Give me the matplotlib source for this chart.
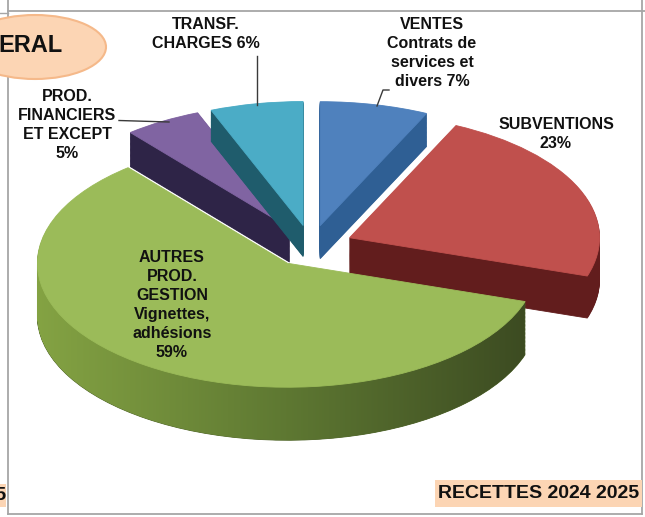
import numpy as np
import matplotlib
matplotlib.use('Agg')
import matplotlib.pyplot as plt
from matplotlib.patches import Ellipse, Rectangle, PathPatch
from matplotlib.path import Path
from matplotlib.colors import to_rgb

plt.rcParams['font.family'] = ['Liberation Sans', 'DejaVu Sans']

# slices, clockwise from 12 o'clock
labels = ['VENTES\nContrats de\nservices et\ndivers 7%',
          'SUBVENTIONS\n23%',
          'AUTRES\nPROD.\nGESTION\nVignettes,\nadhésions\n59%',
          'PROD.\nFINANCIERS\nET EXCEPT\n5%',
          'TRANSF.\nCHARGES 6%']
shares = [7, 23, 59, 5, 6]
top_colors = ['#4f81bd', '#c0504d', '#9bbb59', '#8064a2', '#4bacc6']
side_colors = ['#2f5f94', '#621d1d', '#4e6328', '#2e2447', '#1f5c6c']
title_tail = 'ERAL'
caption = 'RECETTES 2024 2025'
caption_left = '2025'

W, H = 645, 517
cx, cy = 311, 246          # pie centre in pixels (from top)
rx, ry = 250, 124          # ellipse radii in pixels
expl = 42 / rx
nlay = 40
# wall height per slice (back slices look thinner, perspective)
depths = [33, 42, 53, 34, 31]
rank = {0: 0, 3: 1, 4: 2, 1: 3, 2: 4}   # back to front painting order

fig = plt.figure(figsize=(W / 100, H / 100), dpi=100)
fig.patch.set_facecolor('white')

# spreadsheet frame
bg = fig.add_axes([0, 0, 1, 1])
bg.set_xlim(0, W)
bg.set_ylim(H, 0)
bg.axis('off')
gray = '#a6a6a6'
bg.plot([7.5, 7.5], [0, 514], color=gray, lw=1.3)
bg.plot([642, 642], [0, 514], color=gray, lw=1.3)
bg.plot([7.5, 645], [11, 11], color=gray, lw=1.3)
bg.plot([0, 7.5], [12.5, 12.5], color=gray, lw=1.0)
bg.plot([7.5, 642], [514, 514], color=gray, lw=1.3)

# pie
ax = fig.add_axes([0, 0, 1, 1])
ax.set_zorder(1)
ax.patch.set_alpha(0)
green_paths = []
for i in range(nlay):
    wedges, _ = ax.pie(shares, explode=[expl] * 5, startangle=90,
                       counterclock=False, colors=side_colors, radius=1)
    for j, w in enumerate(wedges):
        c = w.center
        w.set_center((c[0], c[1] - depths[j] * (1 - i / nlay) / ry))
        w.set_edgecolor(side_colors[j])
        w.set_linewidth(0.6)
        w.set_zorder(rank[j] * 100 + i)
        if j == 2:
            green_paths.append(w.get_path())

top, _ = ax.pie(shares, explode=[expl] * 5, startangle=90,
                counterclock=False, colors=top_colors, radius=1)
for j, w in enumerate(top):
    w.set_edgecolor(top_colors[j])
    w.set_linewidth(0.6)
    w.set_zorder(rank[j] * 100 + nlay + 5)

# shading on the green wall
stops = [to_rgb('#86a544'), to_rgb('#5e7832'), to_rgb('#394720')]
t = np.linspace(0, 1, 300)
grad = np.array([np.interp(t, [0, 0.5, 1], [s[k] for s in stops]) for k in range(3)]).T
img = np.tile(grad[None, :, :], (10, 1, 1))
clip = PathPatch(Path.make_compound_path(*green_paths), transform=ax.transData,
                 facecolor='none', edgecolor='none')
im = ax.imshow(img, extent=(-1.15, 0.95, -2.0, 0.6), aspect='auto',
               interpolation='bilinear', zorder=rank[2] * 100 + nlay)
im.set_clip_path(clip)

ax.set_aspect('auto')
ax.set_xlim(-cx / rx, (W - cx) / rx)
ax.set_ylim(-(H - cy) / ry, cy / ry)
ax.axis('off')

# labels and decorations
ov = fig.add_axes([0, 0, 1, 1])
ov.set_zorder(2)
ov.patch.set_alpha(0)
ov.set_xlim(0, W)
ov.set_ylim(H, 0)
ov.axis('off')

fs = 11.5
kw = dict(ha='center', va='center', fontsize=fs, fontweight='bold', color='#111111')
label_xy = [(432, 53), (556, 134), (172, 305), (67, 125), (206, 34)]
for lab, (x, y) in zip(labels, label_xy):
    ov.text(x, y, lab, linespacing=1.32, **kw)

lc = '#3a3a3a'
ov.plot([389, 383, 377], [90, 90, 106], color=lc, lw=1)
ov.plot([257, 257], [56, 105], color=lc, lw=1)
ov.plot([119, 169], [120.5, 122], color=lc, lw=1)

ov.add_patch(Ellipse((35, 47), 142, 64, facecolor='#fcd5b4', edgecolor='#f5b98a', lw=1.5))
ov.text(63, 45, title_tail, ha='right', va='center', fontsize=17, fontweight='bold', color='#111111')

ov.add_patch(Rectangle((435, 480), 207, 27, facecolor='#fcd5b4', edgecolor='none'))
ov.text(539, 494, caption, ha='center', va='center', fontsize=14, fontweight='bold', color='#111111')
ov.add_patch(Rectangle((-10, 484), 16, 23, facecolor='#fcd5b4', edgecolor='none'))
ov.text(6, 495, caption_left, ha='right', va='center', fontsize=14, fontweight='bold', color='#111111')

fig.savefig('out.png', dpi=100)
